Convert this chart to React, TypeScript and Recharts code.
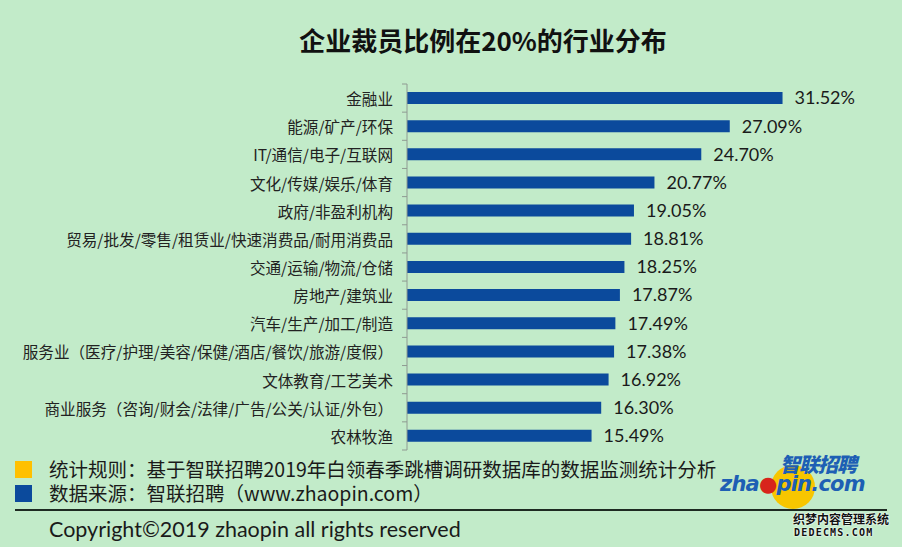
import { Bar, BarChart, LabelList, XAxis, YAxis } from "recharts";

const industries = [
  "金融业",
  "能源/矿产/环保",
  "IT/通信/电子/互联网",
  "文化/传媒/娱乐/体育",
  "政府/非盈利机构",
  "贸易/批发/零售/租赁业/快速消费品/耐用消费品",
  "交通/运输/物流/仓储",
  "房地产/建筑业",
  "汽车/生产/加工/制造",
  "服务业（医疗/护理/美容/保健/酒店/餐饮/旅游/度假）",
  "文体教育/工艺美术",
  "商业服务（咨询/财会/法律/广告/公关/认证/外包）",
  "农林牧渔",
];
const layoffShare = [31.52, 27.09, 24.7, 20.77, 19.05, 18.81, 18.25, 17.87, 17.49, 17.38, 16.92, 16.3, 15.49];
const xDomain: [number, number] = [0, 35];

const footNotes = [
  { color: "#ffc000", text: "统计规则：基于智联招聘2019年白领春季跳槽调研数据库的数据监测统计分析" },
  { color: "#0b4a9c", text: "数据来源：智联招聘（www.zhaopin.com）" },
];

const data = industries.map((name, i) => ({ name, value: layoffShare[i] }));

const CJK = '"Noto Sans CJK SC", "Noto Sans", sans-serif';
const PLOT_TOP = 84;
const PLOT_BOTTOM = 450;
const BAND = (PLOT_BOTTOM - PLOT_TOP) / industries.length;
const AXIS_GRAY = "#8f9a92";

function CategoryTick(props: any) {
  const { x, y, payload } = props;
  const idx = payload?.index ?? props.index;
  const axisX = x + 14;
  const last = idx === industries.length - 1;
  return (
    <g>
      <text
        x={x}
        y={y}
        textAnchor="end"
        dominantBaseline="central"
        fontFamily={CJK}
        fontSize={15.6}
        fill="#222"
      >
        {payload.value}
      </text>
      <line x1={axisX - 5} x2={axisX} y1={y - BAND / 2} y2={y - BAND / 2} stroke={AXIS_GRAY} />
      {last && <line x1={axisX - 5} x2={axisX} y1={y + BAND / 2} y2={y + BAND / 2} stroke={AXIS_GRAY} />}
    </g>
  );
}

export default function App() {
  return (
    <div
      style={{
        position: "absolute",
        left: 0,
        top: 0,
        width: 902,
        height: 547,
        background: "#c2ebc9",
        overflow: "hidden",
        fontFamily: CJK,
      }}
    >
      <div
        style={{
          position: "absolute",
          top: 21,
          left: 0,
          width: 966,
          textAlign: "center",
          fontSize: 26,
          fontWeight: 700,
          color: "#111",
        }}
      >
        企业裁员比例在20%的行业分布
      </div>

      <div style={{ position: "absolute", left: 0, top: 0 }}>
        <BarChart
          width={902}
          height={547}
          data={data}
          layout="vertical"
          margin={{ top: PLOT_TOP, right: 78, bottom: 547 - PLOT_BOTTOM, left: 0 }}
        >
          <XAxis type="number" domain={xDomain} hide />
          <YAxis
            type="category"
            dataKey="name"
            width={407}
            tickSize={5}
            tickMargin={9}
            tickLine={false}
            axisLine={{ stroke: AXIS_GRAY }}
            tick={<CategoryTick />}
            interval={0}
          />
          <Bar dataKey="value" fill="#0b4a9c" barSize={12} isAnimationActive={false}>
            <LabelList
              dataKey="value"
              position="right"
              offset={12}
              formatter={(v: any) => `${Number(v).toFixed(2)}%`}
              style={{ fontFamily: "Lato, sans-serif", fontSize: 18, fill: "#1a1a1a" }}
            />
          </Bar>
        </BarChart>
      </div>

      {footNotes.map((n, i) => (
        <div key={i} style={{ position: "absolute", left: 15, top: 459 + i * 24, display: "flex", alignItems: "center" }}>
          <div style={{ width: 17, height: 17, background: n.color }} />
          <div style={{ marginLeft: 17, fontSize: 19.5, color: "#1a1a1a", lineHeight: "20px", whiteSpace: "nowrap" }}>
            {n.text}
          </div>
        </div>
      ))}

      {/* logo */}
      <div style={{ position: "absolute", left: 771, top: 465, width: 44, height: 44, borderRadius: "50%", background: "#f7c600" }} />
      <div
        style={{
          position: "absolute",
          left: 780,
          top: 454,
          fontSize: 20,
          fontWeight: 900,
          fontStyle: "italic",
          color: "#1d5fb4",
          letterSpacing: -1,
          lineHeight: "20px",
        }}
      >
        智联招聘
      </div>
      <div
        style={{
          position: "absolute",
          left: 720,
          top: 474,
          fontFamily: '"DejaVu Sans", sans-serif',
          fontSize: 21,
          fontWeight: 700,
          fontStyle: "italic",
          color: "#1d5fb4",
          letterSpacing: -0.8,
          lineHeight: "21px",
          whiteSpace: "nowrap",
        }}
      >
        zha<span style={{ color: "#d8241c" }}>●</span>pin.com
      </div>

      <div style={{ position: "absolute", left: 15, top: 509, width: 872, height: 1.5, background: "#1e2a22" }} />
      <div
        style={{
          position: "absolute",
          left: 49,
          top: 516,
          fontFamily: "Lato, sans-serif",
          fontSize: 21.5,
          color: "#1a1a1a",
          whiteSpace: "nowrap",
        }}
      >
        Copyright©2019 zhaopin all rights reserved
      </div>

      <div
        style={{
          position: "absolute",
          left: 793,
          top: 511,
          fontSize: 12,
          fontWeight: 700,
          color: "#111",
          lineHeight: "15px",
          textShadow: "0 0 2px #fff, 0 0 2px #fff",
        }}
      >
        织梦内容管理系统
      </div>
      <div
        style={{
          position: "absolute",
          left: 794,
          top: 527,
          fontFamily: '"DejaVu Sans Mono", monospace',
          fontSize: 10,
          fontWeight: 700,
          color: "#111",
          letterSpacing: 1.2,
          textShadow: "0 0 2px #fff, 0 0 2px #fff",
        }}
      >
        DEDECMS.COM
      </div>
    </div>
  );
}
